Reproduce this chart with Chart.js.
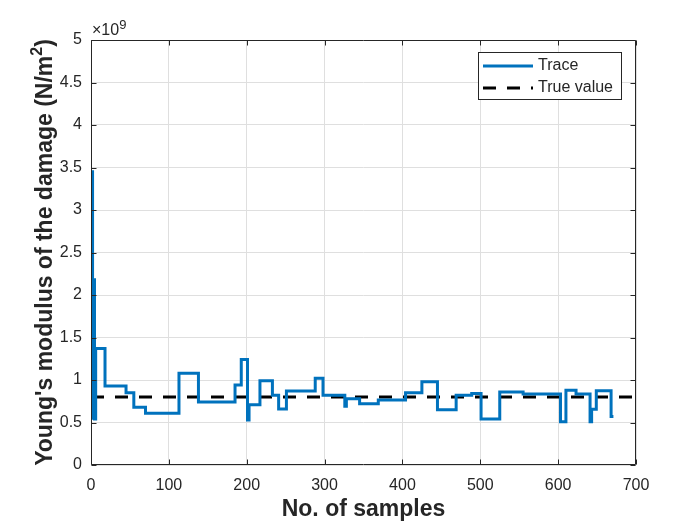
<!DOCTYPE html>
<html>
<head>
<meta charset="utf-8">
<script src="https://cdn.jsdelivr.net/npm/chart.js@4.4.1/dist/chart.umd.min.js"></script>
<style>
html,body{margin:0;padding:0;background:#fff;}
canvas{display:block;}
</style>
</head>
<body>
<canvas id="c" width="700" height="525"></canvas>
<script>
// ---- data (values in N/m^2) ----
// sample index at which the trace changes level, and the level from that sample on
const sampleNo = [0, 2, 3, 4.5, 6, 18, 45, 55, 70, 113, 138, 185, 193, 201, 203, 217, 233, 241, 251, 288,
                  298, 326, 328, 345, 369, 404, 425, 445, 469, 489, 501, 525, 555, 603, 610, 623, 641, 643, 649, 668, 671];
const youngsModulus = [3.45e9, 0.55e9, 2.18e9, 0.54e9, 1.37e9, 0.93e9, 0.85e9, 0.68e9, 0.61e9, 1.08e9, 0.74e9,
                       0.94e9, 1.24e9, 0.53e9, 0.71e9, 0.99e9, 0.82e9, 0.66e9, 0.87e9, 1.02e9, 0.82e9, 0.69e9,
                       0.78e9, 0.72e9, 0.765e9, 0.85e9, 0.98e9, 0.65e9, 0.82e9, 0.84e9, 0.54e9, 0.86e9, 0.835e9,
                       0.51e9, 0.88e9, 0.835e9, 0.51e9, 0.655e9, 0.875e9, 0.57e9, 0.57e9];
const trueValueX = [0, 700];
const trueValueY = [0.8e9, 0.8e9];
const xTickValues = [0, 100, 200, 300, 400, 500, 600, 700];
const yTickValues = [0, 0.5e9, 1e9, 1.5e9, 2e9, 2.5e9, 3e9, 3.5e9, 4e9, 4.5e9, 5e9];
const seriesLabels = ['Trace', 'True value'];
const xTitle = 'No. of samples';
const yTitleMain = "Young's modulus of the damage (N/m";
const yTitleSup = '2';
const yTitleEnd = ')';
const exponentBase = '\u00d710';
const exponentPow = '9';

// staircase points built from the change points
const traceData = [];
sampleNo.forEach((s, i) => {
  if (i > 0) traceData.push({x: s, y: youngsModulus[i - 1]});
  traceData.push({x: s, y: youngsModulus[i]});
});
const trueData = trueValueX.map((x, i) => ({x: x, y: trueValueY[i]}));

const FONT = "'Liberation Sans', Arial, Helvetica, sans-serif";
const TXT = '#262626';
Chart.defaults.font.family = FONT;
Chart.defaults.color = TXT;

const matlabAxes = {
  id: 'matlabAxes',
  afterDraw(chart) {
    const {ctx, chartArea: a, scales: {x, y}} = chart;
    const L = Math.round(a.left) + 0.5, R = Math.round(a.right) - 0.5;
    const T = Math.round(a.top) + 0.5, B = Math.round(a.bottom) - 0.5;
    ctx.save();
    // box
    ctx.strokeStyle = TXT;
    ctx.lineWidth = 1;
    ctx.setLineDash([]);
    ctx.beginPath();
    ctx.rect(L, T, R - L, B - T);
    ctx.stroke();
    // inward ticks on all sides
    ctx.beginPath();
    xTickValues.forEach(v => {
      const px = Math.round(x.getPixelForValue(v)) + 0.5;
      ctx.moveTo(px, B); ctx.lineTo(px, B - 5);
      ctx.moveTo(px, T); ctx.lineTo(px, T + 5);
    });
    yTickValues.forEach(v => {
      const py = Math.round(y.getPixelForValue(v)) + 0.5;
      ctx.moveTo(L, py); ctx.lineTo(L + 5, py);
      ctx.moveTo(R, py); ctx.lineTo(R - 5, py);
    });
    ctx.stroke();

    // exponent label
    ctx.fillStyle = TXT;
    ctx.textBaseline = 'alphabetic';
    ctx.textAlign = 'left';
    ctx.font = '16px ' + FONT;
    ctx.fillText(exponentBase, a.left + 1, a.top - 5);
    const wb = ctx.measureText(exponentBase).width;
    ctx.font = '13px ' + FONT;
    ctx.fillText(exponentPow, a.left + 1 + wb, a.top - 11);

    // y axis title (rotated, with superscript)
    ctx.font = 'bold 23px ' + FONT;
    const w1 = ctx.measureText(yTitleMain).width;
    const w3 = ctx.measureText(yTitleEnd).width;
    ctx.font = 'bold 16px ' + FONT;
    const w2 = ctx.measureText(yTitleSup).width;
    const total = w1 + w2 + w3;
    const cy = (a.top + a.bottom) / 2;
    ctx.save();
    ctx.translate(51.5, cy + total / 2);
    ctx.rotate(-Math.PI / 2);
    ctx.font = 'bold 23px ' + FONT;
    ctx.fillText(yTitleMain, 0, 0);
    ctx.font = 'bold 16px ' + FONT;
    ctx.fillText(yTitleSup, w1, -10);
    ctx.font = 'bold 23px ' + FONT;
    ctx.fillText(yTitleEnd, w1 + w2, 0);
    ctx.restore();

    // legend
    const lx = 478.5, ly = 52.5, lw = 143, lh = 47;
    ctx.fillStyle = '#ffffff';
    ctx.fillRect(lx, ly, lw, lh);
    ctx.strokeStyle = TXT;
    ctx.lineWidth = 1;
    ctx.strokeRect(lx, ly, lw, lh);
    const rows = [66, 88];
    chart.data.datasets.forEach((ds, i) => {
      ctx.strokeStyle = ds.borderColor;
      ctx.lineWidth = ds.borderWidth;
      ctx.setLineDash(ds.borderDash || []);
      ctx.beginPath();
      ctx.moveTo(483, rows[i]);
      ctx.lineTo(533, rows[i]);
      ctx.stroke();
      ctx.setLineDash([]);
      ctx.fillStyle = TXT;
      ctx.font = '16px ' + FONT;
      ctx.textBaseline = 'middle';
      ctx.fillText(ds.label, 538, rows[i]);
    });
    ctx.restore();
  }
};

new Chart(document.getElementById('c'), {
  type: 'line',
  data: {
    datasets: [
      {label: seriesLabels[0], data: traceData, borderColor: '#0072BD', borderWidth: 3,
       pointRadius: 0, tension: 0, fill: false, borderJoinStyle: 'miter'},
      {label: seriesLabels[1], data: trueData, borderColor: '#000000', borderWidth: 3,
       borderDash: [13, 11], pointRadius: 0, tension: 0, fill: false}
    ]
  },
  options: {
    responsive: false,
    animation: false,
    devicePixelRatio: 1,
    layout: {padding: {left: 0, top: 40, right: 64, bottom: 0}},
    plugins: {legend: {display: false}, tooltip: {enabled: false}},
    scales: {
      x: {
        type: 'linear', min: 0, max: 700,
        afterBuildTicks: s => { s.ticks = xTickValues.map(v => ({value: v})); },
        afterFit: s => { s.height = 60; },
        grid: {color: '#dfdfdf', drawTicks: false, lineWidth: 1},
        border: {display: false},
        ticks: {padding: 11, font: {size: 16}, color: TXT, maxRotation: 0,
                callback: v => String(v)},
        title: {display: true, text: xTitle, font: {size: 23, weight: 'bold', lineHeight: 1.2},
                color: TXT, padding: {top: 0, bottom: 2}}
      },
      y: {
        type: 'linear', min: 0, max: 5e9,
        afterBuildTicks: s => { s.ticks = yTickValues.map(v => ({value: v})); },
        afterFit: s => { s.width = 91; },
        grid: {color: '#dfdfdf', drawTicks: false, lineWidth: 1},
        border: {display: false},
        ticks: {padding: 9, font: {size: 16}, color: TXT,
                callback: v => String(Math.round(v / 1e8) / 10)},
        title: {display: false}
      }
    }
  },
  plugins: [matlabAxes]
});
</script>
</body>
</html>
